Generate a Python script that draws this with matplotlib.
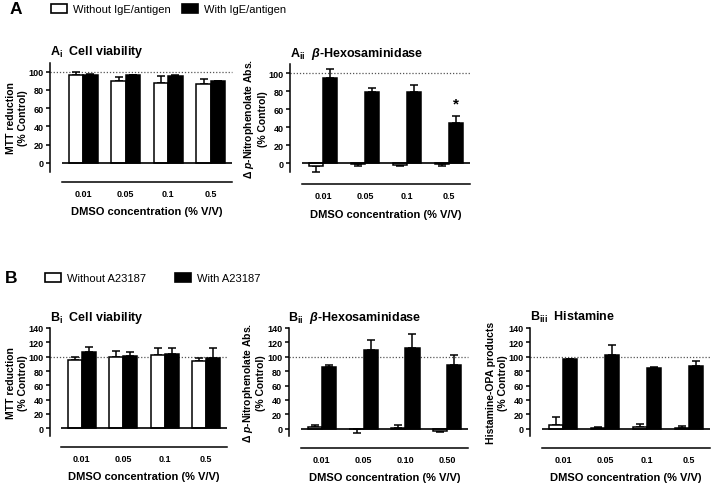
import matplotlib
matplotlib.use("Agg")
import matplotlib.pyplot as plt
from matplotlib.patches import Patch
import numpy as np

plt.rcParams['font.family'] = ['Liberation Sans', 'DejaVu Sans']
plt.rcParams['mathtext.fontset'] = 'custom'
plt.rcParams['mathtext.rm'] = 'Liberation Sans:bold'
plt.rcParams['mathtext.bf'] = 'Liberation Sans:bold'
plt.rcParams['mathtext.it'] = 'Liberation Sans:bold:italic'
plt.rcParams['mathtext.sf'] = 'Liberation Sans:bold'

# ---------------- data ----------------
conc_a = ['0.01', '0.05', '0.1', '0.5']
conc_bii = ['0.01', '0.05', '0.10', '0.50']

ai_without = [96, 90, 88, 87]
ai_without_err = [3.5, 4, 7, 5]
ai_with = [96, 96, 95, 89.5]
ai_with_err = [1, 0.5, 1, 0.5]

aii_without = [-3.5, -1, -1.5, -1]
aii_without_err = [6.5, 2, 2, 2]
aii_with = [94, 79, 79, 45]
aii_with_err = [10, 4.5, 8, 7]

bi_without = [96, 99.5, 103, 94]
bi_without_err = [4, 9, 9, 4]
bi_with = [106, 101.5, 104, 98.5]
bi_with_err = [7.5, 5.5, 8.5, 14]

bii_without = [2, -0.5, 1.5, -2.5]
bii_without_err = [3, 5, 3.5, 2]
bii_with = [86, 109.5, 112, 89]
bii_with_err = [2.5, 14.5, 19.5, 13.5]

biii_without = [5, 1.5, 2, 1.5]
biii_without_err = [11, 0.5, 4.5, 3]
biii_with = [96.5, 103, 85, 87.5]
biii_with_err = [0.5, 13, 0.3, 6.5]

W, H = 713, 485
fig = plt.figure(figsize=(W / 100, H / 100), dpi=100)


def rect(x0, x1, ytop, ybot):
    return [x0 / W, 1 - ybot / H, (x1 - x0) / W, (ybot - ytop) / H]


def one_sided(vals, errs):
    vals = np.asarray(vals, float)
    errs = np.asarray(errs, float)
    lower = np.where(vals < 0, errs, 0)
    upper = np.where(vals >= 0, errs, 0)
    return [lower, upper]


def panel(r, labels, wo, wo_e, wi, wi_e, ylim, yticks, title, ylabel,
          loff, boff):
    ax = fig.add_axes(r)
    x = np.arange(len(labels))
    bw = 0.34
    lw = 1.1
    ax.errorbar(x - bw / 2, wo, yerr=one_sided(wo, wo_e), fmt='none',
                ecolor='black', elinewidth=lw, capsize=2.8, capthick=lw, zorder=2)
    ax.errorbar(x + bw / 2, wi, yerr=one_sided(wi, wi_e), fmt='none',
                ecolor='black', elinewidth=lw, capsize=2.8, capthick=lw, zorder=2)
    ax.bar(x - bw / 2, wo, bw, color='white', edgecolor='black', linewidth=lw, zorder=3)
    ax.bar(x + bw / 2, wi, bw, color='black', edgecolor='black', linewidth=lw, zorder=3)
    ax.axhline(0, color='black', lw=1.2, zorder=4)
    ax.axhline(100, xmin=-loff / (r[2] * W), xmax=1, color='#555555', lw=0.9,
               ls=(0, (1, 1.5)), zorder=1, clip_on=False)
    ax.set_xlim(-0.5, len(labels) - 0.5)
    ax.set_ylim(*ylim)
    ax.set_yticks(yticks)
    ax.set_xticks(x)
    ax.set_xticklabels(labels)
    for s in ['top', 'right']:
        ax.spines[s].set_visible(False)
    ax.spines['left'].set_position(('outward', loff * 0.72))
    ax.spines['bottom'].set_position(('outward', boff * 0.72))
    ax.spines['left'].set_linewidth(lw)
    ax.spines['bottom'].set_linewidth(lw)
    ax.tick_params(axis='x', length=0, pad=5, labelsize=6.5)
    ax.tick_params(axis='y', length=3, width=lw, pad=1.5, labelsize=6.5)
    for t in ax.get_xticklabels() + ax.get_yticklabels():
        t.set_fontweight('bold')
    ax.set_ylabel(ylabel, fontsize=7.5, fontweight='bold', labelpad=0.5)
    ax.set_xlabel('DMSO concentration (% V/V)', fontsize=8, fontweight='bold', labelpad=6)
    ax.set_title(title, fontsize=9, fontweight='bold', loc='left',
                 x=-loff / (r[2] * W), pad=6)
    ax.patch.set_visible(False)
    return ax


ax_ai = panel(rect(62, 232, 63.6, 173.1), conc_a, ai_without, ai_without_err,
              ai_with, ai_with_err, (-10, 110), np.arange(0, 101, 20),
              r'A$_{\rm i}$  Cell viability', 'MTT reduction\n(% Control)', 12, 10)
ax_aii = panel(rect(302, 470, 65.0, 173.3), conc_a, aii_without, aii_without_err,
               aii_with, aii_with_err, (-10, 110), np.arange(0, 101, 20),
               r'A$_{\rm ii}$  $\beta$-Hexosaminidase',
               'Δ $p$-Nitrophenolate Abs.\n(% Control)', 12, 12)
ax_aii.text(3 + 0.17, aii_with[3] + aii_with_err[3] + 6, '*', ha='center', va='bottom',
            fontsize=11, fontweight='bold')

ax_bi = panel(rect(61, 227, 329, 436.5), conc_a, bi_without, bi_without_err,
              bi_with, bi_with_err, (-10, 140), np.arange(0, 141, 20),
              r'B$_{\rm i}$  Cell viability', 'MTT reduction\n(% Control)', 11, 11.5)
ax_bii = panel(rect(301, 468, 329, 437), conc_bii, bii_without, bii_without_err,
               bii_with, bii_with_err, (-10, 140), np.arange(0, 141, 20),
               r'B$_{\rm ii}$  $\beta$-Hexosaminidase',
               'Δ $p$-Nitrophenolate Abs.\n(% Control)', 12.5, 12)
ax_biii = panel(rect(542, 710, 329, 437), conc_a, biii_without, biii_without_err,
                biii_with, biii_with_err, (-10, 140), np.arange(0, 141, 20),
                r'B$_{\rm iii}$  Histamine', 'Histamine-OPA products\n(% Control)', 12, 12)

# panel letters and legends
fig.text(10 / W, 1 - 10 / H, 'A', fontsize=12.5, fontweight='bold', va='center', ha='left')
fig.text(5 / W, 1 - 279 / H, 'B', fontsize=12.5, fontweight='bold', va='center', ha='left')

hw = Patch(facecolor='white', edgecolor='black', linewidth=1.2)
hb = Patch(facecolor='black', edgecolor='black', linewidth=1.2)
fig.legend([hw, hb], ['Without IgE/antigen', 'With IgE/antigen'], ncol=2,
           loc='center left', bbox_to_anchor=(51 / W, 1 - 10 / H), frameon=False,
           fontsize=8, handlelength=1.4, handleheight=0.9, handletextpad=0.6,
           columnspacing=1.0, borderpad=0, borderaxespad=0)
fig.legend([hw, hb], ['Without A23187', 'With A23187'], ncol=2,
           loc='center left', bbox_to_anchor=(45 / W, 1 - 279 / H), frameon=False,
           fontsize=8, handlelength=1.4, handleheight=0.9, handletextpad=0.6,
           columnspacing=2.6, borderpad=0, borderaxespad=0)

fig.savefig('out.png', dpi=100)
